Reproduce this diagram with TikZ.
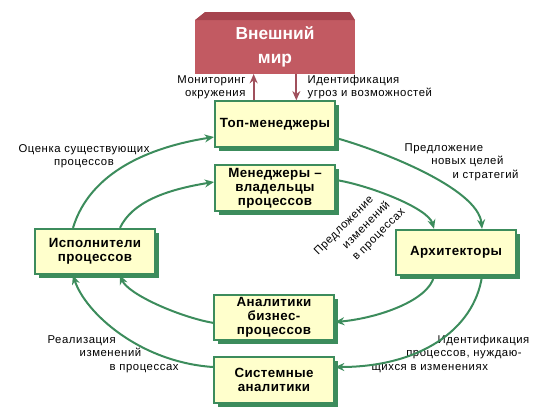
\documentclass[tikz,border=0pt]{standalone}
\usepackage{fontspec}
\setmainfont{Liberation Sans}
\newfontfamily\lblfont[LetterSpace=5]{Liberation Sans}
\newfontfamily\boxfont[LetterSpace=3]{Liberation Sans}
\usetikzlibrary{arrows.meta, shadows}
\definecolor{boxfill}{HTML}{FFFFCC}
\definecolor{boxline}{HTML}{3C8C5C}
\definecolor{worldfront}{HTML}{C25A62}
\definecolor{worldtop}{HTML}{A6444E}
\definecolor{worldarrow}{HTML}{A0505C}

\begin{document}
\begin{tikzpicture}[x=0.75pt,y=0.75pt,
  box/.style={draw=boxline,line width=1.5pt,fill=boxfill,align=center,
    minimum width=90pt,minimum height=34pt,inner sep=2pt,
    font=\boxfont\fontsize{10}{10.5}\selectfont\bfseries,
    drop shadow={shadow xshift=3pt,shadow yshift=-3pt,fill=boxline,opacity=1}},
  world/.style={fill=worldfront,minimum width=120pt,minimum height=40.5pt,
    outer sep=0pt,text=white,align=center,font=\fontsize{13}{18}\selectfont\bfseries},
  lbl/.style={font=\lblfont\fontsize{8.5}{10}\selectfont,inner sep=1pt},
  flow/.style={draw=boxline,line width=1.5pt,-{Stealth[length=7pt,width=6pt]}},
  wflow/.style={draw=worldarrow,line width=1.5pt,-{Stealth[length=7pt,width=6pt]}}]
  \useasboundingbox (0,0) rectangle (541,412);

  \node (world) [world] at (275,365) {Внешний\\мир};
  \fill[worldtop] (world.north west) -- ++(10,8) -- ([shift={(-5,8)}]world.north east)
    -- (world.north east) -- cycle;

  \node (top) [box] at (275,288) {Топ-менеджеры};
  \node (own) [box] at (275,224) {Менеджеры –\\владельцы\\процессов};
  \node (arch) [box] at (456,159.5) {Архитекторы};
  \node (exec) [box] at (95,160.5) {Исполнители\\процессов};
  \node (ban) [box] at (274,94.5) {Аналитики\\бизнес-\\процессов};
  \node (sys) [box] at (274,32) {Системные\\аналитики};

  \node (mon) [lbl,anchor=east,align=right] at (247,325) {Мониторинг\\окружения};
  \node (ident) [lbl,anchor=west,align=left] at (306,325) {Идентификация\\угроз и возможностей};
  \node (eval) [lbl,align=center] at (84,256) {Оценка существующих\\процессов};
  \node (goals) [lbl,anchor=west,align=left] at (403,250)
    {Предложение\\\hspace*{20pt}новых целей\\\hspace*{36pt}и стратегий};
  \node (chg) [lbl,rotate=45,align=left,font=\lblfont\fontsize{8.5}{11.5}\selectfont] at (360,180)
    {Предложение\\\hspace*{18.5pt}изменений\\\hspace*{17.5pt}в процессах};
  \node (impl) [lbl,anchor=west,align=left] at (46,58)
    {Реализация\\\hspace*{24pt}изменений\\\hspace*{46.5pt}в процессах};
  \node (need) [lbl,anchor=west,align=left] at (370,58)
    {\hspace*{49.5pt}Идентификация\\\hspace*{26pt}процессов, нуждаю-\\щихся в изменениях};

  \draw[wflow] ([xshift=-16pt]top.north) -- ([xshift=-16pt]world.south);
  \draw[wflow] ([xshift=16pt]world.south) -- ([xshift=16pt]top.north);

  \draw[flow] ([xshift=-16.5pt]exec.north) .. controls +(17,56) and +(-64,-10) .. ([yshift=-9.75pt]top.west);
  \draw[flow] ([xshift=18.75pt]exec.north) .. controls +(12,25) and +(-50,-8) .. ([yshift=4.5pt]own.west);
  \draw[flow] ([yshift=-10.5pt]top.east) .. controls +(43,-12) and +(-4,41) .. ([xshift=19.5pt]arch.north);
  \draw[flow] ([yshift=6pt]own.east) .. controls +(32,-5) and +(-6,21) .. ([xshift=-16.5pt]arch.north);
  \draw[flow] ([xshift=-16.5pt]arch.south) .. controls +(-5,-24) and +(44,4) .. ([yshift=-3.4pt]ban.east);
  \draw[flow] ([xshift=19.5pt]arch.south) .. controls +(-8,-54) and +(84,0) .. ([yshift=9.75pt]sys.east);
  \draw[flow] ([yshift=-4pt]ban.west) .. controls +(-34,6) and +(8,-19) .. ([xshift=18.75pt]exec.south);
  \draw[flow] ([yshift=9.75pt]sys.west) .. controls +(-74,5) and +(12,-37) .. ([xshift=-16.5pt]exec.south);
\end{tikzpicture}
\end{document}
